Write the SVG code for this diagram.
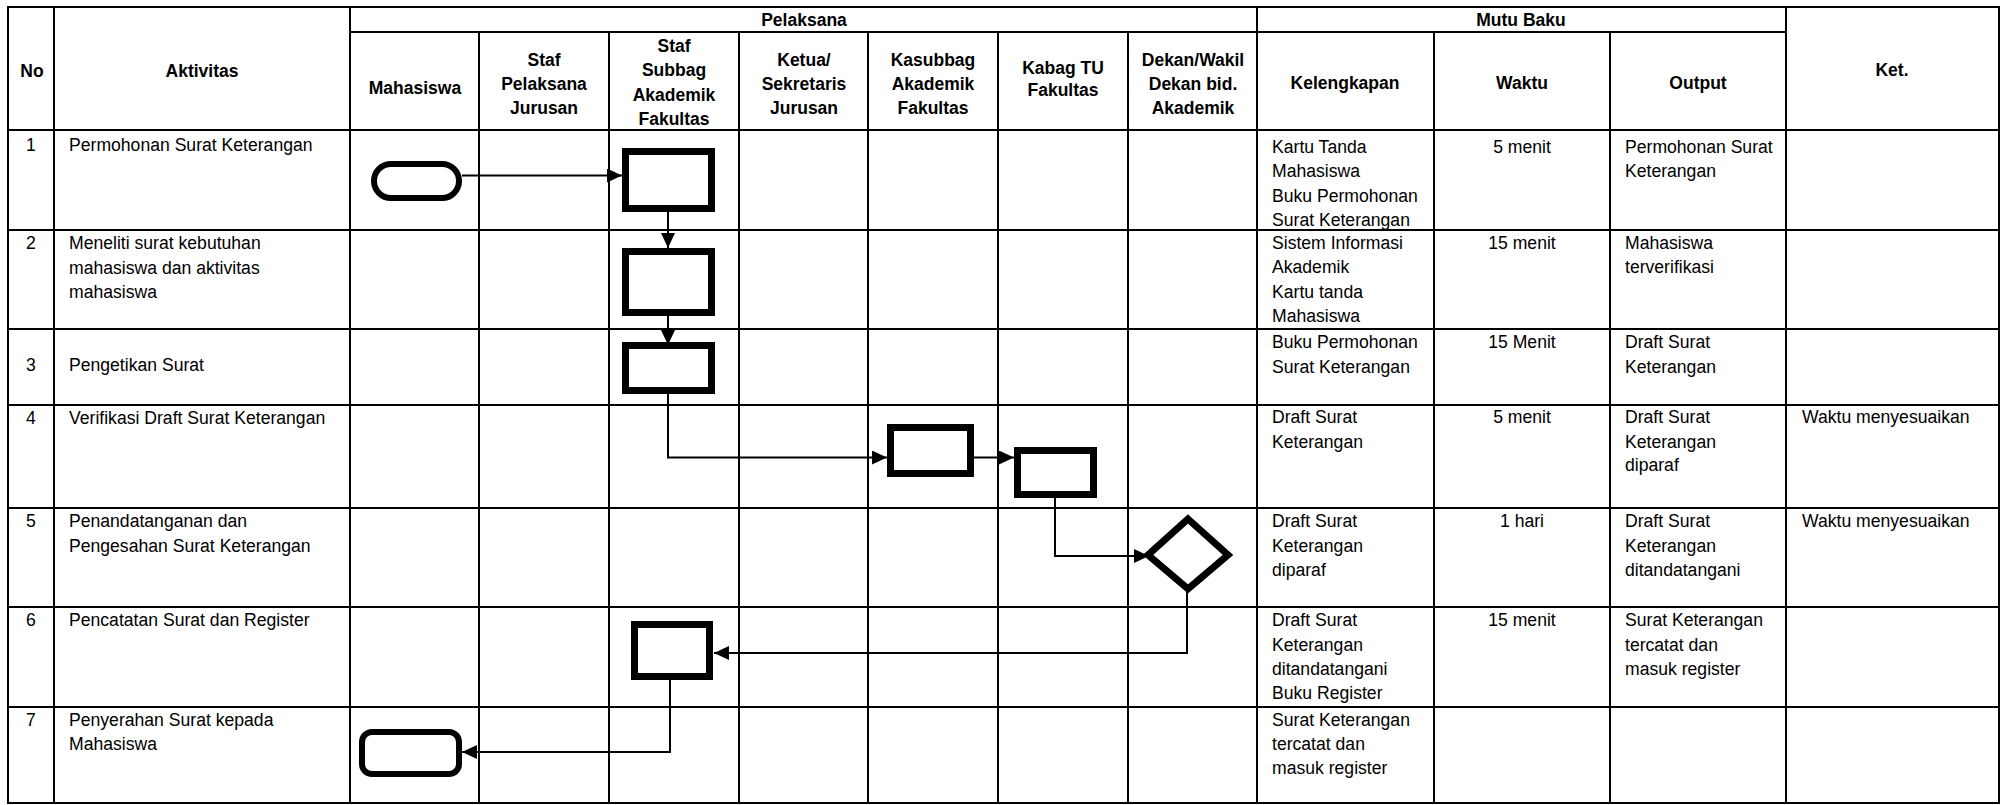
<svg xmlns="http://www.w3.org/2000/svg" width="2002" height="805" viewBox="0 0 2002 805">
<defs>
<style>
.grid{stroke:#000;stroke-width:2;fill:none}
.h{font-family:"Liberation Sans",Arial,sans-serif;font-size:17.5px;font-weight:bold;fill:#000;text-anchor:middle}
.t{font-family:"Liberation Sans",Arial,sans-serif;font-size:17.6px;fill:#000}
.c{text-anchor:middle}
.shape{fill:#fff;stroke:#000;stroke-width:7}
.term{fill:#fff;stroke:#000;stroke-width:6}
.conn{fill:none;stroke:#000;stroke-width:2;marker-end:url(#ah)}
</style>
<marker id="ah" markerWidth="15" markerHeight="14" refX="15" refY="7" orient="auto" markerUnits="userSpaceOnUse">
<path d="M0,0 L15,7 L0,14 z" fill="#000"/>
</marker>
</defs>
<rect width="2002" height="805" fill="#fff"/>
<g id="table" class="grid">
<rect x="8" y="7" width="1991" height="796"/>
<line x1="350" y1="32" x2="1785" y2="32"/>
<line x1="8" y1="130" x2="1999" y2="130"/>
<line x1="8" y1="230" x2="1999" y2="230"/>
<line x1="8" y1="329" x2="1999" y2="329"/>
<line x1="8" y1="405" x2="1999" y2="405"/>
<line x1="8" y1="508" x2="1999" y2="508"/>
<line x1="8" y1="607" x2="1999" y2="607"/>
<line x1="8" y1="707" x2="1999" y2="707"/>
<line x1="54" y1="7" x2="54" y2="803"/>
<line x1="350" y1="7" x2="350" y2="803"/>
<line x1="479" y1="32" x2="479" y2="803"/>
<line x1="609" y1="32" x2="609" y2="803"/>
<line x1="739" y1="32" x2="739" y2="803"/>
<line x1="868" y1="32" x2="868" y2="803"/>
<line x1="998" y1="32" x2="998" y2="803"/>
<line x1="1128" y1="32" x2="1128" y2="803"/>
<line x1="1257" y1="7" x2="1257" y2="803"/>
<line x1="1434" y1="32" x2="1434" y2="803"/>
<line x1="1610" y1="32" x2="1610" y2="803"/>
<line x1="1786" y1="7" x2="1786" y2="803"/>
</g>
<g id="header">
<text class="h" x="32" y="76.5">No</text>
<text class="h" x="202" y="76.5">Aktivitas</text>
<text class="h" x="804" y="26">Pelaksana</text>
<text class="h" x="1521" y="26">Mutu Baku</text>
<text class="h" x="415" y="93.5">Mahasiswa</text>
<text class="h" x="544" y="66">Staf<tspan x="544" y="90">Pelaksana</tspan><tspan x="544" y="114">Jurusan</tspan></text>
<text class="h" x="674" y="52">Staf<tspan x="674" y="76">Subbag</tspan><tspan x="674" y="100.5">Akademik</tspan><tspan x="674" y="125">Fakultas</tspan></text>
<text class="h" x="804" y="66">Ketua/<tspan x="804" y="90">Sekretaris</tspan><tspan x="804" y="114">Jurusan</tspan></text>
<text class="h" x="933" y="66">Kasubbag<tspan x="933" y="90">Akademik</tspan><tspan x="933" y="114">Fakultas</tspan></text>
<text class="h" x="1063" y="74">Kabag TU<tspan x="1063" y="96">Fakultas</tspan></text>
<text class="h" x="1193" y="66">Dekan/Wakil<tspan x="1193" y="90">Dekan bid.</tspan><tspan x="1193" y="114">Akademik</tspan></text>
<text class="h" x="1345" y="89">Kelengkapan</text>
<text class="h" x="1522" y="89">Waktu</text>
<text class="h" x="1698" y="89">Output</text>
<text class="h" x="1892" y="76">Ket.</text>
</g>
<g id="col-no" class="t">
<text class="c" x="31" y="151">1</text>
<text class="c" x="31" y="249">2</text>
<text class="c" x="31" y="371">3</text>
<text class="c" x="31" y="423.5">4</text>
<text class="c" x="31" y="527">5</text>
<text class="c" x="31" y="626">6</text>
<text class="c" x="31" y="725.5">7</text>
</g>
<g id="col-aktivitas" class="t">
<text x="69" y="151">Permohonan Surat Keterangan</text>
<text x="69" y="249">Meneliti surat kebutuhan<tspan x="69" y="273.5">mahasiswa dan aktivitas</tspan><tspan x="69" y="297.5">mahasiswa</tspan></text>
<text x="69" y="371">Pengetikan Surat</text>
<text x="69" y="423.5">Verifikasi Draft Surat Keterangan</text>
<text x="69" y="527">Penandatanganan dan<tspan x="69" y="551.5">Pengesahan Surat Keterangan</tspan></text>
<text x="69" y="626">Pencatatan Surat dan Register</text>
<text x="69" y="725.5">Penyerahan Surat kepada<tspan x="69" y="750">Mahasiswa</tspan></text>
</g>
<g id="col-kelengkapan" class="t">
<text x="1272" y="153">Kartu Tanda<tspan x="1272" y="177.3">Mahasiswa</tspan><tspan x="1272" y="201.6">Buku Permohonan</tspan><tspan x="1272" y="225.9">Surat Keterangan</tspan></text>
<text x="1272" y="249">Sistem Informasi<tspan x="1272" y="273">Akademik</tspan><tspan x="1272" y="297.5">Kartu tanda</tspan><tspan x="1272" y="321.5">Mahasiswa</tspan></text>
<text x="1272" y="348">Buku Permohonan<tspan x="1272" y="372.5">Surat Keterangan</tspan></text>
<text x="1272" y="423">Draft Surat<tspan x="1272" y="447.5">Keterangan</tspan></text>
<text x="1272" y="527">Draft Surat<tspan x="1272" y="551.5">Keterangan</tspan><tspan x="1272" y="575.5">diparaf</tspan></text>
<text x="1272" y="626">Draft Surat<tspan x="1272" y="650.5">Keterangan</tspan><tspan x="1272" y="675">ditandatangani</tspan><tspan x="1272" y="699">Buku Register</tspan></text>
<text x="1272" y="725.5">Surat Keterangan<tspan x="1272" y="749.5">tercatat dan</tspan><tspan x="1272" y="774">masuk register</tspan></text>
</g>
<g id="col-waktu" class="t">
<text class="c" x="1522" y="153">5 menit</text>
<text class="c" x="1522" y="249">15 menit</text>
<text class="c" x="1522" y="348">15 Menit</text>
<text class="c" x="1522" y="423">5 menit</text>
<text class="c" x="1522" y="527">1 hari</text>
<text class="c" x="1522" y="626">15 menit</text>
</g>
<g id="col-output" class="t">
<text x="1625" y="153">Permohonan Surat<tspan x="1625" y="177.3">Keterangan</tspan></text>
<text x="1625" y="249">Mahasiswa<tspan x="1625" y="273">terverifikasi</tspan></text>
<text x="1625" y="348">Draft Surat<tspan x="1625" y="372.5">Keterangan</tspan></text>
<text x="1625" y="423">Draft Surat<tspan x="1625" y="447.5">Keterangan</tspan><tspan x="1625" y="471">diparaf</tspan></text>
<text x="1625" y="527">Draft Surat<tspan x="1625" y="551.5">Keterangan</tspan><tspan x="1625" y="575.5">ditandatangani</tspan></text>
<text x="1625" y="626">Surat Keterangan<tspan x="1625" y="650.5">tercatat dan</tspan><tspan x="1625" y="675">masuk register</tspan></text>
</g>
<g id="col-ket" class="t">
<text x="1802" y="423">Waktu menyesuaikan</text>
<text x="1802" y="527">Waktu menyesuaikan</text>
</g>
<g id="connectors">
<path class="conn" d="M462,175.5 H622"/>
<path class="conn" d="M668,212 V248"/>
<path class="conn" d="M668,316 V345"/>
<path class="conn" d="M668,394 V457.5 H887"/>
<path class="conn" d="M974,457.5 H1014"/>
<path class="conn" d="M1055,497 V556 H1149"/>
<path class="conn" d="M1187,590 V653 H714"/>
<path class="conn" d="M670,680 V752 H462"/>
</g>
<g id="n1-start"><rect class="term" x="374" y="164" width="85" height="34" rx="17"/></g>
<g id="n1-process"><rect class="shape" x="625.5" y="151.5" width="86" height="57"/></g>
<g id="n2-process"><rect class="shape" x="625.5" y="251.5" width="86" height="61"/></g>
<g id="n3-process"><rect class="shape" x="625.5" y="345.5" width="86" height="45"/></g>
<g id="n4-process"><rect class="shape" x="890.5" y="427.5" width="80" height="46"/></g>
<g id="n4b-process"><rect class="shape" x="1017.5" y="450.5" width="76" height="44"/></g>
<g id="n5-decision"><polygon class="shape" points="1188,519 1228,555 1188,589 1148,555"/></g>
<g id="n6-process"><rect class="shape" x="634.5" y="624.5" width="75" height="52"/></g>
<g id="n7-end"><rect class="term" x="362" y="732" width="97" height="42" rx="10"/></g>
</svg>
